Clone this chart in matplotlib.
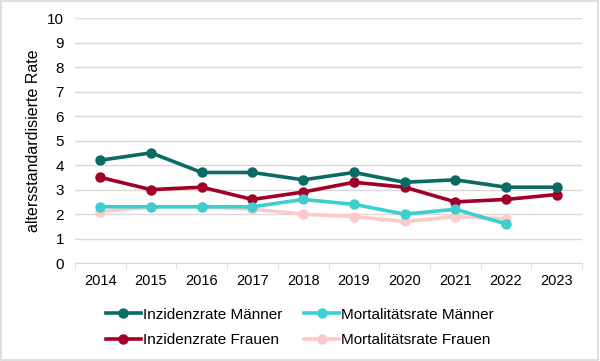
import numpy as np
import matplotlib
matplotlib.use("Agg")
import matplotlib.pyplot as plt
from matplotlib.patches import Rectangle

plt.rcParams['font.family'] = ['Liberation Sans', 'DejaVu Sans']

years = ['2014', '2015', '2016', '2017', '2018', '2019', '2020', '2021', '2022', '2023']
inz_m = [4.2, 4.5, 3.7, 3.7, 3.4, 3.7, 3.3, 3.4, 3.1, 3.1]
mort_m = [2.3, 2.3, 2.3, 2.3, 2.6, 2.4, 2.0, 2.2, 1.6, np.nan]
inz_f = [3.5, 3.0, 3.1, 2.6, 2.9, 3.3, 3.1, 2.5, 2.6, 2.8]
mort_f = [2.1, 2.3, 2.3, 2.2, 2.0, 1.9, 1.7, 1.9, 1.8, np.nan]

series = [
    ('Inzidenzrate Männer', inz_m, '#0a6b64'),
    ('Mortalitätsrate Männer', mort_m, '#3ccfcf'),
    ('Inzidenzrate Frauen', inz_f, '#a1002a'),
    ('Mortalitätsrate Frauen', mort_f, '#ffc9c9'),
]
# draw order: back to front
order = [3, 1, 2, 0]

fig = plt.figure(figsize=(6, 3.61), dpi=100)
ax = fig.add_axes([0.125, 0.271, 0.845, 0.679])
x = np.arange(len(years))
handles = {}
for i in order:
    name, vals, col = series[i]
    h, = ax.plot(x, vals, color=col, lw=2.6, marker='o', ms=6.5, label=name, zorder=3 + (3 - i))
    handles[i] = h

ax.set_xlim(-0.5, len(years) - 0.5)
ax.set_ylim(0, 10)
ax.set_yticks(range(0, 11))
ax.yaxis.grid(True, color='#d9d9d9', lw=1)
ax.set_axisbelow(True)
for s in ['top', 'right', 'left']:
    ax.spines[s].set_visible(False)
ax.spines['bottom'].set_color('#d9d9d9')
ax.tick_params(axis='y', length=0, labelsize=11, pad=8)
ax.set_xticks(x)
ax.set_xticklabels(years, fontsize=10.5)
ax.tick_params(axis='x', length=0, pad=8)
ax.set_xticks(np.arange(-0.5, len(years), 1), minor=True)
ax.tick_params(axis='x', which='minor', length=4, color='#d9d9d9')
ax.set_ylabel('altersstandardisierte Rate', fontsize=11.5, labelpad=4)

# legend filled column-wise: IM, IF | MM, MF
leg_order = [0, 2, 1, 3]
leg = fig.legend([handles[i] for i in leg_order], [series[i][0] for i in leg_order],
                 loc='lower center', bbox_to_anchor=(0.5, 0.0), ncol=2, frameon=False,
                 fontsize=11, handlelength=2.3, handletextpad=0.15, columnspacing=1.4,
                 labelspacing=0.75)

fig.patches.append(Rectangle((0.002, 0.003), 0.995, 0.993, transform=fig.transFigure,
                             fill=False, edgecolor='#d9d9d9', lw=1.2))
fig.savefig('out.png', dpi=100)
